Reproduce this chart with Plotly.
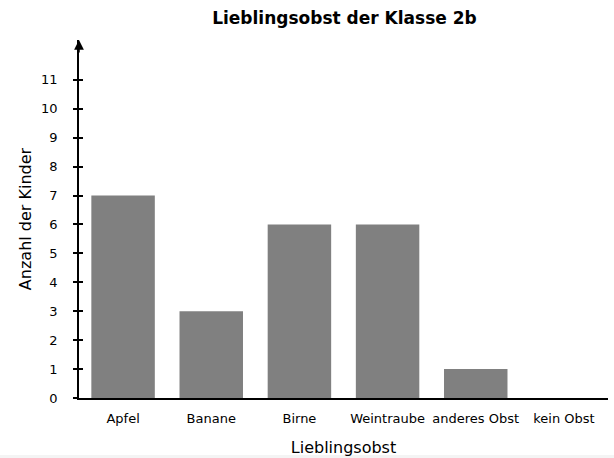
import plotly.graph_objects as go

categories = ["Apfel", "Banane", "Birne", "Weintraube", "anderes Obst", "kein Obst"]
counts = [7, 3, 6, 6, 1, 0]
y_ticks = list(range(0, 12))

FONT = "DejaVu Sans"
W, H = 614, 458
ML, MR, MT, MB = 79, 6, 40, 60
YMAX = 12.38

fig = go.Figure()
fig.add_trace(go.Bar(x=categories, y=counts, marker=dict(color="#808080", line=dict(width=0)),
                     width=0.72, showlegend=False))
# invisible trace for second y axis (crossing ticks)
fig.add_trace(go.Scatter(x=categories, y=counts, yaxis="y2", mode="markers",
                         marker=dict(opacity=0), showlegend=False, hoverinfo="skip"))

fig.update_layout(
    width=W, height=H,
    margin=dict(l=ML, r=MR, t=MT, b=MB, autoexpand=False),
    paper_bgcolor="white", plot_bgcolor="white",
    font=dict(family=FONT, color="black", size=13),
    title=dict(text="<b>Lieblingsobst der Klasse 2b</b>", x=0.561, xanchor="center",
               y=1 - 18 / H, yanchor="middle", font=dict(size=17, family=FONT)),
    xaxis=dict(type="category", range=[-0.5, 5.5], showgrid=False, showline=True,
               linecolor="black", linewidth=1.5, ticks="", tickfont=dict(size=13),
               ticklabelstandoff=8,
               title=dict(text="Lieblingsobst", font=dict(size=16), standoff=16),
               zeroline=False, automargin=False),
    yaxis=dict(range=[0, YMAX], tickvals=y_ticks, showgrid=False, showline=True,
               linecolor="black", linewidth=1.5, ticks="outside", ticklen=4,
               tickcolor="black", tickwidth=1.5, tickfont=dict(size=13), ticklabelstandoff=13,
               title=dict(text="Anzahl der Kinder", font=dict(size=16), standoff=6),
               zeroline=False, automargin=False),
    yaxis2=dict(range=[0, YMAX], tickvals=y_ticks[1:], overlaying="y", side="left",
                showgrid=False, showline=False, ticks="inside", ticklen=4,
                tickcolor="black", tickwidth=1.5, showticklabels=False, zeroline=False),
    bargap=0.28,
)

fig.add_annotation(x=0, y=1.0, xref="paper", yref="paper", ax=0, ay=14,
                   axref="pixel", ayref="pixel", text="", showarrow=True,
                   arrowhead=2, arrowsize=1.3, arrowwidth=1.5, arrowcolor="black")

fig.add_shape(type="rect", xref="paper", yref="paper", x0=-ML / (W - ML - MR), x1=1 + MR / (W - ML - MR),
              y0=-MB / (H - MT - MB), y1=-(MB - 3) / (H - MT - MB),
              fillcolor="#f4f4f4", line=dict(width=0), layer="below")

fig.write_html("out.html", config={"displayModeBar": False},
               post_script="document.body.style.margin='0';")
